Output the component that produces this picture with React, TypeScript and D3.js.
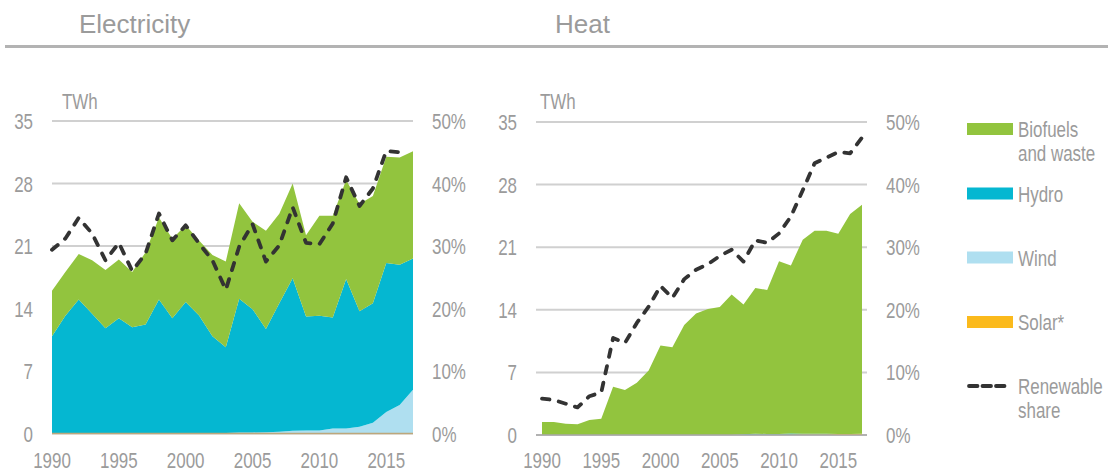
import React from 'react';
import * as d3 from 'd3';

// years on the x axis
const years = [
  1990, 1991, 1992, 1993, 1994, 1995, 1996, 1997, 1998, 1999,
  2000, 2001, 2002, 2003, 2004, 2005, 2006, 2007, 2008, 2009,
  2010, 2011, 2012, 2013, 2014, 2015, 2016, 2017,
];
const xTicks = [1990, 1995, 2000, 2005, 2010, 2015];
const twhTicks = [0, 7, 14, 21, 28, 35];
const pctTicks = [0, 10, 20, 30, 40, 50];

// Electricity, TWh
const elecWind = [
  0, 0, 0, 0, 0, 0, 0, 0, 0, 0,
  0.02, 0.03, 0.05, 0.07, 0.1, 0.12, 0.15, 0.2, 0.3, 0.35,
  0.35, 0.55, 0.55, 0.75, 1.2, 2.4, 3.2, 4.9,
];
const elecHydro = [
  10.9, 13.2, 15.0, 13.4, 11.8, 12.9, 11.9, 12.2, 15.0, 12.9,
  14.7, 13.2, 10.85, 9.6, 15.0, 13.8, 11.55, 14.4, 17.1, 12.75,
  12.85, 12.45, 16.75, 12.95, 13.4, 16.7, 15.7, 14.7,
];
const elecBio = [
  5.1, 4.9, 5.1, 6.0, 6.5, 6.6, 6.2, 8.1, 9.2, 8.9,
  8.6, 8.4, 9.1, 9.6, 10.7, 9.8, 11.0, 10.0, 10.6, 9.1,
  11.2, 11.4, 11.1, 12.0, 12.0, 11.9, 12.0, 12.0,
];
const elecSolar = [
  0, 0, 0, 0, 0, 0, 0, 0, 0, 0,
  0, 0, 0, 0, 0, 0, 0, 0, 0, 0,
  0, 0, 0, 0, 0, 0, 0, 0,
];
// renewable share, %
const elecShare = [
  29.4, 31.2, 34.5, 32.0, 27.7, 30.5, 26.0, 28.8, 35.2, 30.9,
  33.3, 30.4, 27.7, 23.0, 29.9, 33.5, 27.5, 30.1, 36.2, 30.5,
  30.3, 33.6, 41.0, 36.4, 39.2, 45.2, 45.0, null,
];

// Heat, TWh
const heatSolar = [
  0, 0, 0, 0, 0, 0, 0, 0, 0, 0,
  0, 0, 0, 0, 0, 0, 0, 0.03, 0.05, 0.05,
  0.06, 0.06, 0.07, 0.07, 0.08, 0.1, 0.12, 0.14,
];
const heatHydro = [
  0, 0, 0, 0, 0, 0, 0, 0, 0, 0,
  0, 0, 0, 0, 0, 0, 0, 0.05, 0.1, 0.06,
  0.06, 0.1, 0.07, 0.07, 0.07, 0, 0, 0,
];
const heatWind = [
  0, 0, 0, 0, 0, 0, 0, 0, 0, 0,
  0, 0, 0, 0, 0, 0, 0, 0, 0, 0,
  0, 0, 0, 0, 0, 0, 0, 0,
];
const heatBio = [
  1.45, 1.45, 1.26, 1.19, 1.67, 1.82, 5.39, 5.02, 5.83, 7.2,
  10.0, 9.8, 12.3, 13.6, 14.1, 14.3, 15.7, 14.5, 16.3, 16.1,
  19.3, 18.8, 21.7, 22.7, 22.7, 22.4, 24.6, 25.6,
];
const heatShare = [
  5.8, 5.6, 5.0, 4.4, 6.2, 6.8, 15.5, 14.7, 17.9, 20.5,
  23.8, 21.9, 24.9, 26.4, 27.3, 28.6, 29.6, 27.7, 31.1, 30.7,
  32.2, 34.9, 39.1, 43.4, 44.3, 45.2, 45.0, 47.5,
];

const legendItems = [
  { key: 'bio', label: ['Biofuels', 'and waste'] },
  { key: 'hydro', label: ['Hydro'] },
  { key: 'wind', label: ['Wind'] },
  { key: 'solar', label: ['Solar*'] },
];

const colors: Record<string, string> = {
  bio: '#92c43e',
  hydro: '#05b7d1',
  wind: '#afdff0',
  solar: '#fbba1c',
};

const textColor = '#9b9b9b';

// the reference uses a condensed face; squeeze Liberation Sans horizontally
const NText = ({ x, y, anchor, children }: any) => (
  <g transform={`translate(${x},${y}) scale(0.77,1)`}>
    <text x={0} y={0} textAnchor={anchor || 'start'}>{children}</text>
  </g>
);

type PanelProps = {
  wind: number[];
  hydro: number[];
  bio: number[];
  solar: number[];
  share: (number | null)[];
  order: string[];
  x0: number;
  x1: number;
  gx0: number;
  gx1: number;
  y0: number;
  y1: number;
  leftLabelX: number;
  rightLabelX: number;
  unitX: number;
  zeroColor: string;
};

const Panel = (p: PanelProps) => {
  const x = d3.scaleLinear().domain([1990, 2017]).range([p.x0, p.x1]);
  const y = d3.scaleLinear().domain([0, 35]).range([p.y0, p.y1]);
  const yPct = d3.scaleLinear().domain([0, 50]).range([p.y0, p.y1]);

  const rows = years.map((yr, i) => ({
    year: yr,
    wind: p.wind[i],
    hydro: p.hydro[i],
    bio: p.bio[i],
    solar: p.solar[i],
  }));
  const stacked = d3.stack<any>().keys(p.order)(rows);
  const area = d3
    .area<any>()
    .x((d) => x(d.data.year))
    .y0((d) => y(d[0]))
    .y1((d) => y(d[1]));

  const shareLine = d3
    .line<any>()
    .defined((d) => d.v != null)
    .x((d) => x(d.year))
    .y((d) => yPct(d.v));
  const shareData = years.map((yr, i) => ({ year: yr, v: p.share[i] }));

  return (
    <g>
      {twhTicks.map((t) => (
        <line key={t} x1={p.gx0} x2={p.gx1} y1={y(t)} y2={y(t)} stroke="#d0d0d0" strokeWidth={2} />
      ))}
      {stacked.map((s) => (
        <path key={s.key} d={area(s) || ''} fill={colors[s.key]} />
      ))}
      <line x1={p.gx0} x2={p.gx1} y1={y(0)} y2={y(0)} stroke={p.zeroColor} strokeWidth={1.5} />
      <path
        d={shareLine(shareData) || ''}
        fill="none"
        stroke="#333333"
        strokeWidth={3.8}
        strokeDasharray="7.5,9.5"
        strokeLinecap="round"
        strokeLinejoin="round"
      />
      <g fontFamily='"Liberation Sans", Arial, sans-serif' fontSize={22} fill={textColor}>
        {twhTicks.map((t) => (
          <NText key={t} x={p.leftLabelX} y={y(t) + 8} anchor="end">{t}</NText>
        ))}
        {pctTicks.map((t) => (
          <NText key={t} x={p.rightLabelX} y={yPct(t) + 8}>{t}%</NText>
        ))}
        {xTicks.map((t) => (
          <NText key={t} x={x(t)} y={468} anchor="middle">{t}</NText>
        ))}
        <NText x={p.unitX} y={109}>TWh</NText>
      </g>
    </g>
  );
};

export default function App() {
  const legendY = [129, 193.5, 257.5, 322];
  return (
    <svg width={1108} height={471} style={{ position: 'absolute', left: 0, top: 0, background: '#fff' }}>
      <g fontFamily='"Liberation Sans", Arial, sans-serif' fontSize={26} fill={textColor}>
        <text x={79} y={33}>Electricity</text>
        <text x={555} y={33}>Heat</text>
      </g>
      <rect x={5} y={45} width={1103} height={3} fill="#b3b3b3" />

      <Panel
        wind={elecWind}
        hydro={elecHydro}
        bio={elecBio}
        solar={elecSolar}
        share={elecShare}
        order={['solar', 'wind', 'hydro', 'bio']}
        x0={52}
        x1={413}
        gx0={52}
        gx1={413}
        y0={433.5}
        y1={121}
        leftLabelX={33}
        rightLabelX={432}
        unitX={62}
        zeroColor="#bda77b"
      />
      <Panel
        wind={heatWind}
        hydro={heatHydro}
        bio={heatBio}
        solar={heatSolar}
        share={heatShare}
        order={['solar', 'wind', 'hydro', 'bio']}
        x0={542}
        x1={862}
        gx0={536}
        gx1={867}
        y0={435}
        y1={122}
        leftLabelX={517}
        rightLabelX={886}
        unitX={540}
        zeroColor="#a8a8a8"
      />

      <g fontFamily='"Liberation Sans", Arial, sans-serif' fontSize={22} fill={textColor}>
        {legendItems.map((it, i) => (
          <g key={it.key}>
            <rect x={967} y={legendY[i] - 6} width={46} height={12} fill={colors[it.key]} />
            {it.label.map((l, j) => (
              <NText key={l} x={1018} y={legendY[i] + 8 + j * 24}>{l}</NText>
            ))}
          </g>
        ))}
        <line
          x1={969}
          x2={1007}
          y1={386}
          y2={386}
          stroke="#333333"
          strokeWidth={3.8}
          strokeDasharray="8.5,5"
          strokeLinecap="round"
        />
        <NText x={1018} y={394}>Renewable</NText>
        <NText x={1018} y={418}>share</NText>
      </g>
    </svg>
  );
}
